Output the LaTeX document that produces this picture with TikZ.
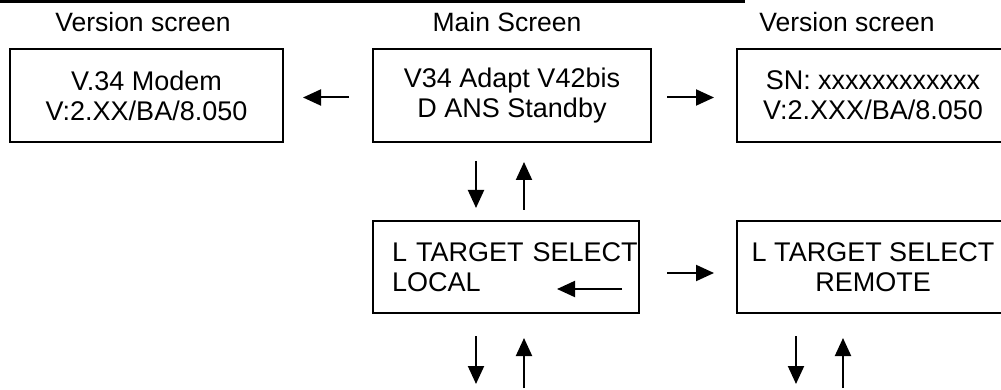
\documentclass[tikz,border=0pt]{standalone}
\usepackage{fontspec}
\setmainfont{Liberation Sans}
\usetikzlibrary{positioning}
\usetikzlibrary{arrows.meta}
\tikzset{
    mybox/.style = {rectangle, line width=2pt, draw=black, align=center, inner sep=0pt, minimum height=93pt, font=\fontsize{27}{30}\selectfont, text=black},
    mytitle/.style = {inner sep=0pt, font=\fontsize{26.5}{30}\selectfont, text=black},
    edgea/.style = {-{Triangle[length=18pt,width=16pt]}, line width=2pt, black},
    toprule/.style = {-, line width=3pt, black}
}

\begin{document}
\begin{tikzpicture}[x=1pt,y=-1pt]
%
\path[use as bounding box] (0,0) rectangle (1001,390);
\draw[toprule] (0,1.5) -- (745,1.5);
%
\node[mytitle] at (143,22) (tver1) {Version screen};
\node[mytitle] at (507,22) (tmain) {Main Screen};
\node[mytitle] at (847,22) (tver2) {Version screen};
%
\node[mybox, minimum width=273pt] at (146.5,95.5) (ver1) {V.34 Modem\\V:2.XX/BA/8.050};
\node[mybox, minimum width=278pt] at (512,95.5) (main) {V34 Adapt V42bis\\D ANS Standby};
\node[mybox, minimum width=272pt] at (873,95.5) (ver2) {SN: xxxxxxxxxxxx\\V:2.XXX/BA/8.050};
\node[mybox, text width=228pt, inner xsep=19pt, align=left, minimum height=92pt] at (506,267) (local) {\mbox{L TARGET SELECT}\\LOCAL};
\node[mybox, minimum width=272pt, minimum height=92pt] at (873,267) (remote) {L TARGET SELECT\\REMOTE};
%
\coordinate (lin) at (622,289);
\coordinate (lout) at (557,289);
\coordinate (ldown) at (476,384);
\coordinate (lup) at (524,388);
\coordinate (rdown) at (796,384);
\coordinate (rup) at (843,388);
%
\draw[edgea, shorten <=23pt, shorten >=19pt] ([yshift=-2pt]main.west) -- ([yshift=-2pt]ver1.east);
\draw[edgea, shorten <=15pt, shorten >=22pt] ([yshift=-2pt]main.east) -- ([yshift=-2pt]ver2.west);
\draw[edgea, shorten <=27pt, shorten >=22pt] ([yshift=-6pt]local.east) -- ([yshift=-6pt]remote.west);
\draw[edgea, shorten <=18pt, shorten >=12pt] ([xshift=-36pt]main.south) -- ([xshift=-30pt]local.north);
\draw[edgea, shorten <=10pt, shorten >=19pt] ([xshift=18pt]local.north) -- ([xshift=12pt]main.south);
\draw[edgea] (lin) -- (lout);
\draw[edgea, shorten <=22pt] ([xshift=-30pt]local.south) -- (ldown);
\draw[edgea, shorten >=24pt] (lup) -- ([xshift=18pt]local.south);
\draw[edgea, shorten <=22pt] ([xshift=-77pt]remote.south) -- (rdown);
\draw[edgea, shorten >=24pt] (rup) -- ([xshift=-30pt]remote.south);

\end{tikzpicture}
\end{document}
